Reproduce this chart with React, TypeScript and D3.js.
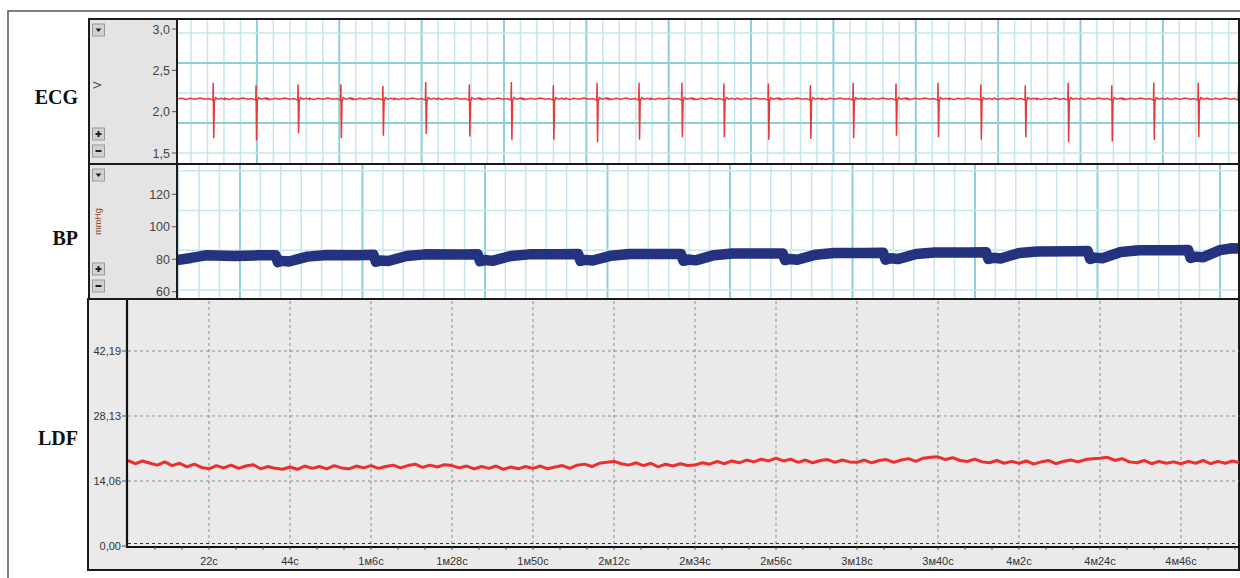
import React, { useRef, useEffect } from 'react';
import * as d3 from 'd3';

// ---- ECG (time in s on the monitor grid, voltage in V) ----
const ecgBeats = [0.47, 0.99, 1.50, 2.02, 2.53, 3.05, 3.58, 4.09, 4.60, 5.13, 5.64, 6.16, 6.67,
  7.21, 7.72, 8.24, 8.76, 9.27, 9.79, 10.33, 10.85, 11.38, 11.89, 12.43, 12.92];
const ecgHigh = [2.35, 2.32, 2.33, 2.33, 2.31, 2.36, 2.33, 2.36, 2.32, 2.35, 2.35, 2.35, 2.34,
  2.34, 2.32, 2.35, 2.34, 2.35, 2.33, 2.32, 2.35, 2.32, 2.35, 2.35, 2.33];
const ecgLow = [1.68, 1.65, 1.74, 1.68, 1.71, 1.73, 1.70, 1.66, 1.66, 1.63, 1.66, 1.69, 1.69,
  1.66, 1.67, 1.68, 1.71, 1.69, 1.66, 1.69, 1.63, 1.64, 1.66, 1.69, 1.70];
const ecgBaseline = 2.155;
// beat shape around each R peak: time offset, offset from baseline (null = peak / trough)
const ecgShapeDt = [-0.38, -0.33, -0.28, -0.22, -0.16, -0.1, -0.05, -0.012, -0.004, 0, 0.006, 0.014, 0.03, 0.06, 0.1, 0.14];
const ecgShapeDv = [0.008, -0.008, 0.006, -0.004, 0.01, -0.006, 0.004, -0.012, 0, null, null, -0.03, 0.015, -0.004, 0.008, -0.006];
const ecgTicks = [3.0, 2.5, 2.0, 1.5];
const ecgTickLabels = ['3,0', '2,5', '2,0', '1,5'];

// ---- BP (mmHg) ----
const bpTimes = [0.486, 0.60, 0.72, 0.95, 1.15,
  1.29, 1.31, 1.34, 1.40, 1.55, 1.71, 1.95,
  2.09, 2.11, 2.15, 2.21, 2.36, 2.51, 2.80,
  2.94, 2.96, 3.00, 3.06, 3.21, 3.36, 3.60,
  3.76, 3.78, 3.82, 3.88, 4.03, 4.18, 4.45,
  4.60, 4.62, 4.66, 4.72, 4.87, 5.02, 5.30,
  5.43, 5.45, 5.49, 5.55, 5.70, 5.85, 6.10,
  6.25, 6.27, 6.31, 6.37, 6.52, 6.67, 6.95,
  7.09, 7.11, 7.15, 7.21, 7.36, 7.51, 7.80,
  7.92, 7.94, 7.98, 8.04, 8.19, 8.34, 8.60,
  8.74, 8.76, 8.80, 8.86, 9.00, 9.10, 9.17];
const bpValues = [79.5, 80.8, 82.4, 82.0, 82.4,
  82.5, 78.2, 79.0, 78.6, 81.6, 82.6, 82.5,
  82.7, 78.5, 79.2, 78.9, 82.0, 83.0, 82.9,
  83.1, 78.8, 79.5, 79.0, 82.0, 83.0, 83.1,
  83.2, 79.0, 79.6, 79.2, 82.2, 83.2, 83.3,
  83.3, 79.0, 79.8, 79.3, 82.5, 83.5, 83.6,
  83.6, 79.5, 80.2, 79.7, 82.8, 83.8, 83.9,
  84.0, 79.8, 80.6, 80.1, 83.2, 84.2, 84.2,
  84.3, 80.2, 80.9, 80.4, 83.8, 84.8, 84.9,
  85.0, 80.2, 81.0, 80.6, 84.5, 85.5, 85.6,
  85.7, 80.8, 81.6, 81.2, 85.6, 86.8, 86.6];
const bpTicks = [120, 100, 80, 60];

// ---- LDF (perfusion units, sampled every 2 s) ----
const ldfStep = 2;
const ldfValues = [
  18.5, 17.8, 18.4, 17.9, 17.5, 18.2, 17.4, 17.9, 17.1, 17.7, 17.0,
  16.7, 17.4, 16.9, 17.5, 16.8, 17.3, 17.6, 16.7, 17.2, 16.8, 16.6,
  17.1, 16.6, 17.3, 16.8, 17.2, 16.7, 17.4, 16.9, 16.7, 17.3, 16.9,
  17.4, 16.8, 17.2, 17.5, 16.9, 17.4, 17.7, 17.0, 17.5, 17.1, 17.6,
  17.4, 16.9, 17.3, 16.7, 17.2, 16.8, 17.3, 16.6, 17.1, 16.7, 17.2,
  16.8, 17.3, 16.7, 17.1, 17.4, 16.8, 17.5, 17.7, 17.2, 17.9, 18.1,
  18.3, 17.8, 17.5, 18.0, 17.4, 17.9, 17.1, 17.7, 17.3, 17.8, 17.4,
  17.5, 18.0, 17.7, 18.3, 17.8, 18.4, 18.0, 18.6, 18.2, 18.8, 18.4,
  19.0, 18.4, 18.8, 18.1, 18.6, 18.0, 18.5, 18.7, 18.1, 18.6, 18.2,
  18.1, 18.6, 18.0, 18.5, 18.7, 18.1, 18.6, 18.9, 18.3, 19.0, 19.2,
  19.3, 18.7, 19.1, 18.5, 18.3, 18.8, 18.2, 18.0, 18.5, 17.9, 18.3,
  17.9, 18.4, 17.7, 18.2, 18.5, 17.8, 18.3, 18.6, 18.2, 18.7, 18.9,
  19.0, 19.2, 18.5, 18.9, 18.2, 18.0, 18.5, 17.8, 18.3, 17.9, 18.2,
  17.8, 18.3, 17.9, 18.5, 17.8, 18.3, 17.9, 18.4, 18.0];
const ldfTicks = [0, 14.06, 28.13, 42.19];
const ldfTickLabels = ['0,00', '14,06', '28,13', '42,19'];
const ldfTimeTicks = [22, 44, 66, 88, 110, 132, 154, 176, 198, 220, 242, 264, 286];
const ldfTimeLabels = ['22с', '44с', '1м6с', '1м28с', '1м50с', '2м12с', '2м34с', '2м56с',
  '3м18с', '3м40с', '4м2с', '4м24с', '4м46с'];

const W = 1240, H = 578;
const sideL = 89, plotL = 177, plotR = 1239;
const sans = '"Liberation Sans", Arial, sans-serif';

const App = () => {
  const ref = useRef(null);

  useEffect(() => {
    const svg = d3.select(ref.current);
    svg.selectAll('*').remove();
    const defs = svg.append('defs');

    // outer frame
    svg.append('path').attr('d', `M8,${H} V11 H${W}`).attr('fill', 'none')
      .attr('stroke', '#555').attr('stroke-width', 1.5);

    // channel names
    const names = [['ECG', 104], ['BP', 245], ['LDF', 445]];
    names.forEach(([t, y]) => {
      svg.append('text').attr('x', 78).attr('y', y).attr('text-anchor', 'end')
        .attr('font-family', '"Liberation Serif", "Times New Roman", serif')
        .attr('font-weight', 'bold').attr('font-size', 20).attr('fill', '#111').text(t);
    });

    // --- monitor-style panel (ECG / BP) ---
    const drawMonitor = (top, bot, id, x, y, xMinor, xMajor, yGrid, yMajor, ticks, labels, unit, unitColor) => {
      const g = svg.append('g');
      g.append('rect').attr('x', sideL).attr('y', top).attr('width', plotL - sideL).attr('height', bot - top)
        .attr('fill', '#e4e4e4');
      g.append('rect').attr('x', plotL).attr('y', top).attr('width', plotR - plotL).attr('height', bot - top)
        .attr('fill', '#fff');
      defs.append('clipPath').attr('id', id).append('rect')
        .attr('x', plotL).attr('y', top).attr('width', plotR - plotL).attr('height', bot - top);
      const grid = g.append('g').attr('clip-path', `url(#${id})`);
      const [x0, x1] = x.domain();
      d3.range(Math.ceil(x0 / xMinor) * xMinor, x1, xMinor).forEach(t => {
        const major = Math.abs(t / xMajor - Math.round(t / xMajor)) < 1e-6;
        grid.append('line').attr('x1', x(t)).attr('x2', x(t)).attr('y1', top).attr('y2', bot)
          .attr('stroke', major ? '#8ccfdc' : '#c4e6ed').attr('stroke-width', major ? 2 : 1.5);
      });
      yGrid.forEach((v, i) => {
        const major = yMajor.includes(i);
        grid.append('line').attr('x1', plotL).attr('x2', plotR).attr('y1', y(v)).attr('y2', y(v))
          .attr('stroke', major ? '#8ccfdc' : '#c4e6ed').attr('stroke-width', major ? 2 : 1.5);
      });
      // ticks
      ticks.forEach((v, i) => {
        g.append('line').attr('x1', plotL - 5).attr('x2', plotL).attr('y1', y(v)).attr('y2', y(v))
          .attr('stroke', '#555');
        g.append('text').attr('x', plotL - 7).attr('y', y(v) + 4.5).attr('text-anchor', 'end')
          .attr('font-family', sans).attr('font-size', 12.5).attr('fill', '#444').text(labels[i]);
      });
      // unit
      const uy = unit === 'V' ? 85 : (top + bot) / 2 - 10;
      g.append('text').attr('transform', `translate(101,${uy}) rotate(-90)`).attr('text-anchor', 'middle')
        .attr('font-family', sans).attr('font-size', unit === 'V' ? 11 : 9).attr('fill', unitColor).text(unit);
      // buttons
      const btn = (by, kind) => {
        g.append('rect').attr('x', 92.5).attr('y', by).attr('width', 12).attr('height', 12)
          .attr('fill', '#d2d2d2').attr('stroke', '#9a9a9a');
        if (kind === 'down') g.append('path').attr('d', `M95.5,${by + 4.5} h6 l-3,3.5 z`).attr('fill', '#222');
        if (kind === 'plus') g.append('path').attr('d', `M95.5,${by + 6} h6 M98.5,${by + 3} v6`)
          .attr('stroke', '#222').attr('stroke-width', 2);
        if (kind === 'minus') g.append('path').attr('d', `M95.5,${by + 6} h6`)
          .attr('stroke', '#222').attr('stroke-width', 2);
      };
      btn(top + 5, 'down');
      btn(bot - 36, 'plus');
      btn(bot - 19, 'minus');
      return grid;
    };

    // ECG
    const ecgTop = 19, ecgBot = 164;
    const xEcg = d3.scaleLinear().domain([0.03, 0.03 + (plotR - plotL) / 82.36]).range([plotL, plotR]);
    const yEcg = d3.scaleLinear().domain([1.5, 3.0]).range([153, 29]);
    const ecgGrid = d3.range(1.5, 3.2, 0.363);
    const ecgG = drawMonitor(ecgTop, ecgBot, 'clipEcg', xEcg, yEcg, 0.2, 1, ecgGrid, [1, 3],
      ecgTicks, ecgTickLabels, 'V', '#334466');
    const ecgPts = [[xEcg.domain()[0], ecgBaseline]];
    ecgBeats.forEach((t, i) => {
      ecgShapeDt.forEach((dt, j) => {
        const dv = ecgShapeDv[j];
        const v = dv === null ? (dt === 0 ? ecgHigh[i] : ecgLow[i]) : ecgBaseline + dv;
        ecgPts.push([t + dt, v]);
      });
    });
    ecgPts.push([xEcg.domain()[1] + 0.2, ecgBaseline]);
    ecgG.append('path').datum(ecgPts)
      .attr('d', d3.line().x(d => xEcg(d[0])).y(d => yEcg(d[1])))
      .attr('fill', 'none').attr('stroke', '#e8383a').attr('stroke-width', 1.5);

    // BP
    const bpTop = 164, bpBot = 299;
    const xBp = d3.scaleLinear().domain([0.486, 0.486 + (plotR - plotL) / 122.5]).range([plotL, plotR]);
    const yBp = d3.scaleLinear().domain([60, 120]).range([291.7, 194.3]);
    const bpGrid = d3.range(61, 140, 24.5);
    const bpG = drawMonitor(bpTop, bpBot, 'clipBp', xBp, yBp, 1 / 6, 1, bpGrid, [],
      bpTicks, bpTicks.map(String), 'mmHg', '#8a4a2a');
    bpG.append('path').datum(bpTimes.map((t, i) => [t, bpValues[i]]))
      .attr('d', d3.line().x(d => xBp(d[0])).y(d => yBp(d[1])))
      .attr('fill', 'none').attr('stroke', '#25327f').attr('stroke-width', 10.5)
      .attr('stroke-linejoin', 'round');

    // borders for ECG / BP
    [[ecgTop, ecgBot], [bpTop, bpBot]].forEach(([t, b]) => {
      svg.append('rect').attr('x', sideL).attr('y', t).attr('width', plotR - sideL).attr('height', b - t)
        .attr('fill', 'none').attr('stroke', '#1a1a1a').attr('stroke-width', 2);
      svg.append('line').attr('x1', plotL).attr('x2', plotL).attr('y1', t).attr('y2', b)
        .attr('stroke', '#1a1a1a').attr('stroke-width', 2);
    });

    // LDF
    const lTop = 299, lBot = 570, lLeft = 88;
    svg.append('rect').attr('x', lLeft).attr('y', lTop).attr('width', plotR - lLeft).attr('height', lBot - lTop)
      .attr('fill', '#eaeaea').attr('stroke', '#1a1a1a').attr('stroke-width', 2);
    const xL = d3.scaleLinear().domain([0, 286]).range([128, 1181]);
    const yL = d3.scaleLinear().domain([0, 42.19]).range([546, 351]);
    const lg = svg.append('g');
    ldfTimeTicks.forEach(t => {
      lg.append('line').attr('x1', xL(t)).attr('x2', xL(t)).attr('y1', lTop + 2).attr('y2', 546)
        .attr('stroke', '#8c8c8c').attr('stroke-dasharray', '3,3');
    });
    ldfTicks.forEach(v => {
      lg.append('line').attr('x1', xL(0)).attr('x2', plotR).attr('y1', yL(v) - (v === 0 ? 2.5 : 0))
        .attr('y2', yL(v) - (v === 0 ? 2.5 : 0))
        .attr('stroke', v === 0 ? '#333' : '#8c8c8c').attr('stroke-dasharray', '3,3');
    });
    defs.append('clipPath').attr('id', 'clipLdf').append('rect')
      .attr('x', xL(0)).attr('y', lTop).attr('width', plotR - xL(0)).attr('height', 546 - lTop);
    lg.append('path').datum(ldfValues.map((v, i) => [i * ldfStep, v]))
      .attr('clip-path', 'url(#clipLdf)')
      .attr('d', d3.line().x(d => xL(d[0])).y(d => yL(d[1])))
      .attr('fill', 'none').attr('stroke', '#ef2d2d').attr('stroke-width', 3)
      .attr('stroke-linejoin', 'bevel');
    // axes
    lg.append('path').attr('d', `M${xL(0) - 1},${lTop + 1} V${yL(0) + 1} H${plotR}`)
      .attr('fill', 'none').attr('stroke', '#111').attr('stroke-width', 2.2);
    ldfTicks.forEach((v, i) => {
      lg.append('line').attr('x1', xL(0) - 6).attr('x2', xL(0) - 1).attr('y1', yL(v)).attr('y2', yL(v))
        .attr('stroke', '#555');
      lg.append('text').attr('x', xL(0) - 7).attr('y', yL(v) + 4).attr('text-anchor', 'end')
        .attr('font-family', sans).attr('font-size', 11).attr('fill', '#333').text(ldfTickLabels[i]);
    });
    d3.range(22 / 3, 302, 22 / 3).forEach(t => {
      lg.append('line').attr('x1', xL(t)).attr('x2', xL(t)).attr('y1', 547).attr('y2', 550)
        .attr('stroke', '#555');
    });
    ldfTimeTicks.forEach((t, i) => {
      lg.append('text').attr('x', xL(t)).attr('y', 565).attr('text-anchor', 'middle')
        .attr('font-family', sans).attr('font-size', 11).attr('fill', '#333').text(ldfTimeLabels[i]);
    });
  }, []);

  return (
    <svg ref={ref} width={W} height={H}
      style={{ position: 'absolute', left: 0, top: 0, background: '#fff' }} />
  );
};

export default App;
